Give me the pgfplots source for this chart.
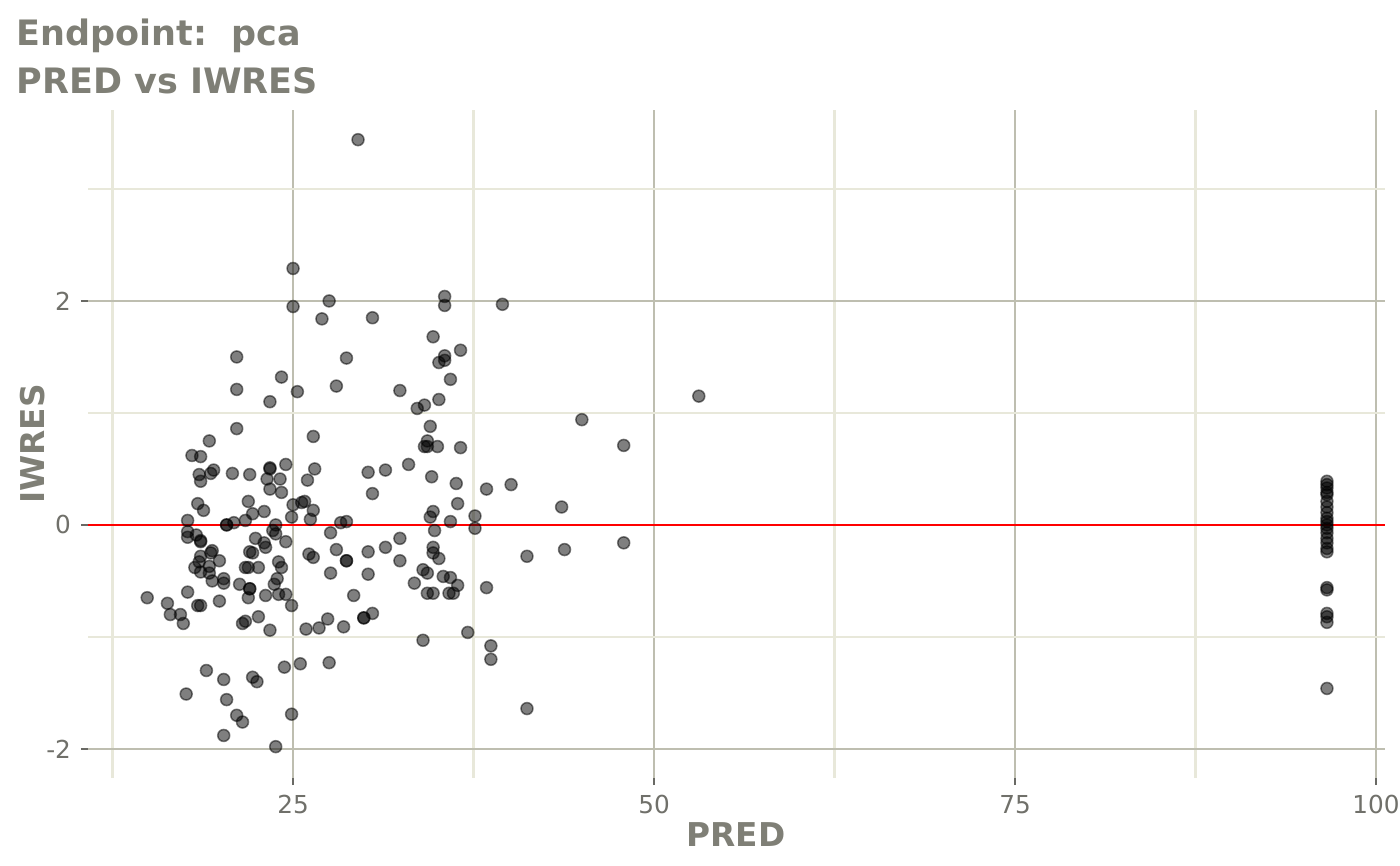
\documentclass[border=0pt]{standalone}
\usepackage{fontspec}
\setmainfont{DejaVu Sans}
\usepackage{pgfplots}
\pgfplotsset{compat=1.18}
\definecolor{txt}{RGB}{127,127,118}
\definecolor{ticktxt}{RGB}{112,112,106}
\definecolor{gmaj}{RGB}{190,190,176}
\definecolor{gmin}{RGB}{232,232,218}
\definecolor{tickc}{RGB}{105,105,100}
\begin{document}
\begin{tikzpicture}[x=1pt,y=1pt]
\useasboundingbox (0,0) rectangle (504,-311.4);
\begin{axis}[
  at={(31.68pt,-280.08pt)}, anchor=south west,
  scale only axis, width=466.92pt, height=240.48pt,
  xmin=10.8, xmax=100.62, ymin=-2.26, ymax=3.705,
  xtick={25,50,75,100}, xticklabels={25,50,75,100},
  ytick={-2,0,2}, yticklabels={-2,0,2},
  minor xtick={12.5,37.5,62.5,87.5}, minor ytick={-1,1,3},
  grid=both,
  major grid style={draw=gmaj, line width=0.95pt},
  minor grid style={draw=gmin, line width=0.8pt},
  axis line style={draw=none},
  xtick pos=bottom, ytick pos=left,
  tick align=outside, major tick length=2.6pt, minor tick length=0pt,
  tick style={draw=tickc, line width=0.9pt},
  ticklabel style={font=\fontsize{8.9}{10}\selectfont, text=ticktxt},
]
\addplot[red, line width=0.95pt, forget plot] coordinates {(10.8,0) (100.62,0)};
\addplot[only marks, mark=*, mark size=2.15pt, mark options={fill=black, fill opacity=0.5, draw=black, draw opacity=0.5, line width=0.55pt}] table {
x y
29.5 3.44
25.0 2.29
27.5 2.00
25.0 1.95
27.0 1.84
30.5 1.85
35.5 2.04
35.5 1.96
39.5 1.97
21.1 1.50
28.7 1.49
34.7 1.68
36.6 1.56
35.5 1.51
35.5 1.47
35.1 1.45
35.9 1.30
24.2 1.32
21.1 1.21
28.0 1.24
32.4 1.20
25.3 1.19
23.4 1.10
35.1 1.12
34.1 1.07
33.6 1.04
53.1 1.15
45.0 0.94
21.1 0.86
34.5 0.88
19.2 0.75
26.4 0.79
34.3 0.75
34.1 0.70
34.3 0.70
35.0 0.70
36.6 0.69
47.9 0.71
18.0 0.62
18.6 0.61
18.5 0.45
18.6 0.39
19.3 0.46
19.5 0.49
20.8 0.46
22.0 0.45
23.4 0.50
23.4 0.51
24.5 0.54
26.5 0.50
23.2 0.41
24.1 0.41
26.0 0.40
33.0 0.54
31.4 0.49
30.2 0.47
34.6 0.43
36.3 0.37
38.4 0.32
40.1 0.36
30.5 0.28
23.4 0.32
24.2 0.29
18.4 0.19
21.9 0.21
25.0 0.18
25.6 0.20
25.8 0.21
36.4 0.19
34.7 0.12
34.5 0.07
43.6 0.16
18.8 0.13
22.2 0.10
23.0 0.12
24.9 0.07
26.4 0.13
26.2 0.05
37.6 0.08
17.7 0.04
20.4 0.00
20.4 0.00
20.9 0.02
21.7 0.04
23.8 0.00
28.3 0.02
28.7 0.03
35.9 0.03
37.6 -0.03
34.8 -0.05
17.7 -0.06
17.7 -0.11
18.3 -0.09
18.6 -0.14
18.6 -0.15
22.4 -0.12
23.0 -0.16
23.1 -0.20
23.6 -0.05
23.8 -0.08
24.5 -0.15
26.1 -0.26
26.4 -0.29
27.6 -0.07
28.0 -0.22
28.7 -0.32
28.7 -0.32
27.6 -0.43
22.0 -0.24
22.2 -0.25
19.4 -0.23
19.3 -0.25
18.6 -0.28
19.9 -0.32
18.5 -0.33
18.2 -0.38
19.2 -0.37
18.6 -0.42
19.2 -0.43
21.7 -0.38
21.9 -0.38
22.6 -0.38
24.0 -0.33
24.2 -0.38
23.9 -0.48
23.7 -0.53
20.2 -0.48
20.2 -0.52
19.4 -0.50
21.3 -0.53
22.0 -0.57
22.0 -0.57
24.0 -0.62
24.5 -0.62
21.9 -0.65
23.1 -0.63
14.9 -0.65
16.3 -0.70
17.7 -0.60
16.5 -0.80
17.2 -0.80
17.4 -0.88
18.4 -0.72
18.6 -0.72
19.9 -0.68
24.9 -0.72
21.7 -0.86
21.5 -0.88
22.6 -0.82
23.4 -0.94
25.9 -0.93
26.8 -0.92
27.4 -0.84
28.5 -0.91
29.2 -0.63
29.9 -0.83
29.9 -0.83
30.5 -0.79
30.2 -0.24
30.2 -0.44
31.4 -0.20
32.4 -0.12
32.4 -0.32
34.0 -0.40
34.3 -0.43
33.4 -0.52
34.3 -0.61
34.7 -0.61
34.7 -0.20
34.7 -0.25
35.1 -0.30
35.4 -0.46
35.9 -0.47
36.4 -0.54
35.8 -0.61
36.1 -0.61
38.4 -0.56
37.1 -0.96
34.0 -1.03
38.7 -1.08
38.7 -1.20
41.2 -0.28
43.8 -0.22
47.9 -0.16
41.2 -1.64
19.0 -1.30
20.2 -1.38
17.6 -1.51
20.4 -1.56
22.2 -1.36
22.5 -1.40
24.4 -1.27
25.5 -1.24
27.5 -1.23
21.1 -1.70
21.5 -1.76
24.9 -1.69
20.2 -1.88
23.8 -1.98
96.6 0.39
96.6 0.36
96.6 0.33
96.6 0.29
96.6 0.27
96.6 0.21
96.6 0.16
96.6 0.11
96.6 0.06
96.6 0.03
96.6 0.00
96.6 -0.03
96.6 -0.07
96.6 -0.12
96.6 -0.16
96.6 -0.21
96.6 -0.24
96.6 -0.56
96.6 -0.58
96.6 -0.79
96.6 -0.82
96.6 -0.87
96.6 -1.46
};
\end{axis}
\node[anchor=base west, inner sep=0pt, text=txt, font=\bfseries\fontsize{12.6}{15}\selectfont] at (5.76,-16.2) {Endpoint:\ \ pca};
\node[anchor=base west, inner sep=0pt, text=txt, font=\bfseries\fontsize{12.6}{15}\selectfont] at (5.76,-33.48) {PRED vs IWRES};
\node[anchor=base, inner sep=0pt, text=txt, font=\bfseries\fontsize{11.8}{14}\selectfont] at (264.96,-304.56) {PRED};
\node[anchor=base, rotate=90, inner sep=0pt, text=txt, font=\bfseries\fontsize{11.8}{14}\selectfont] at (15.84,-159.84) {IWRES};
\end{tikzpicture}
\end{document}
